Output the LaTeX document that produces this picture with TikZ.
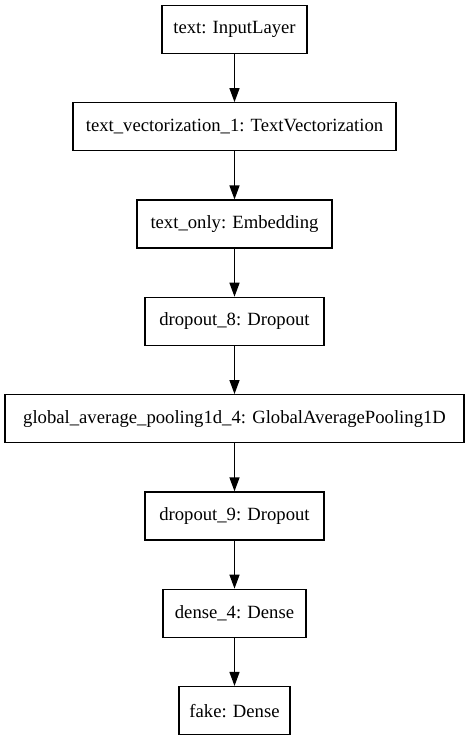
\documentclass[tikz,border=0pt]{standalone}
\usepackage{fontspec}
\setmainfont{Liberation Serif}
\usetikzlibrary{arrows.meta}
\begin{document}
\begin{tikzpicture}[x=0.75pt,y=-0.75pt,
  layer/.style={draw=black,line width=1pt,inner sep=0pt,minimum height=36pt,font=\fontsize{14pt}{16pt}\selectfont},
  conn/.style={line width=1pt,-{Triangle[length=10.5pt,width=7.5pt]}}]
\useasboundingbox (0,0) rectangle (469,741);
\node[layer,minimum width=0.75*145pt] (n1) at (234.5,29.5) {text: InputLayer};
\node[layer,minimum width=0.75*323pt] (n2) at (234.5,126.8) {text\_vectorization\_1: TextVectorization};
\node[layer,minimum width=0.75*195.3pt] (n3) at (234.5,224.1) {text\_only: Embedding};
\node[layer,minimum width=0.75*178.7pt] (n4) at (234.5,321.4) {dropout\_8: Dropout};
\node[layer,minimum width=0.75*459.3pt] (n5) at (234.5,418.7) {global\_average\_pooling1d\_4: GlobalAveragePooling1D};
\node[layer,minimum width=0.75*178.7pt] (n6) at (234.5,516) {dropout\_9: Dropout};
\node[layer,minimum width=0.75*143pt] (n7) at (234.5,613.3) {dense\_4: Dense};
\node[layer,minimum width=0.75*111pt] (n8) at (234.5,710.6) {fake: Dense};
\draw[conn] (n1) -- (n2);
\draw[conn] (n2) -- (n3);
\draw[conn] (n3) -- (n4);
\draw[conn] (n4) -- (n5);
\draw[conn] (n5) -- (n6);
\draw[conn] (n6) -- (n7);
\draw[conn] (n7) -- (n8);
\end{tikzpicture}
\end{document}
